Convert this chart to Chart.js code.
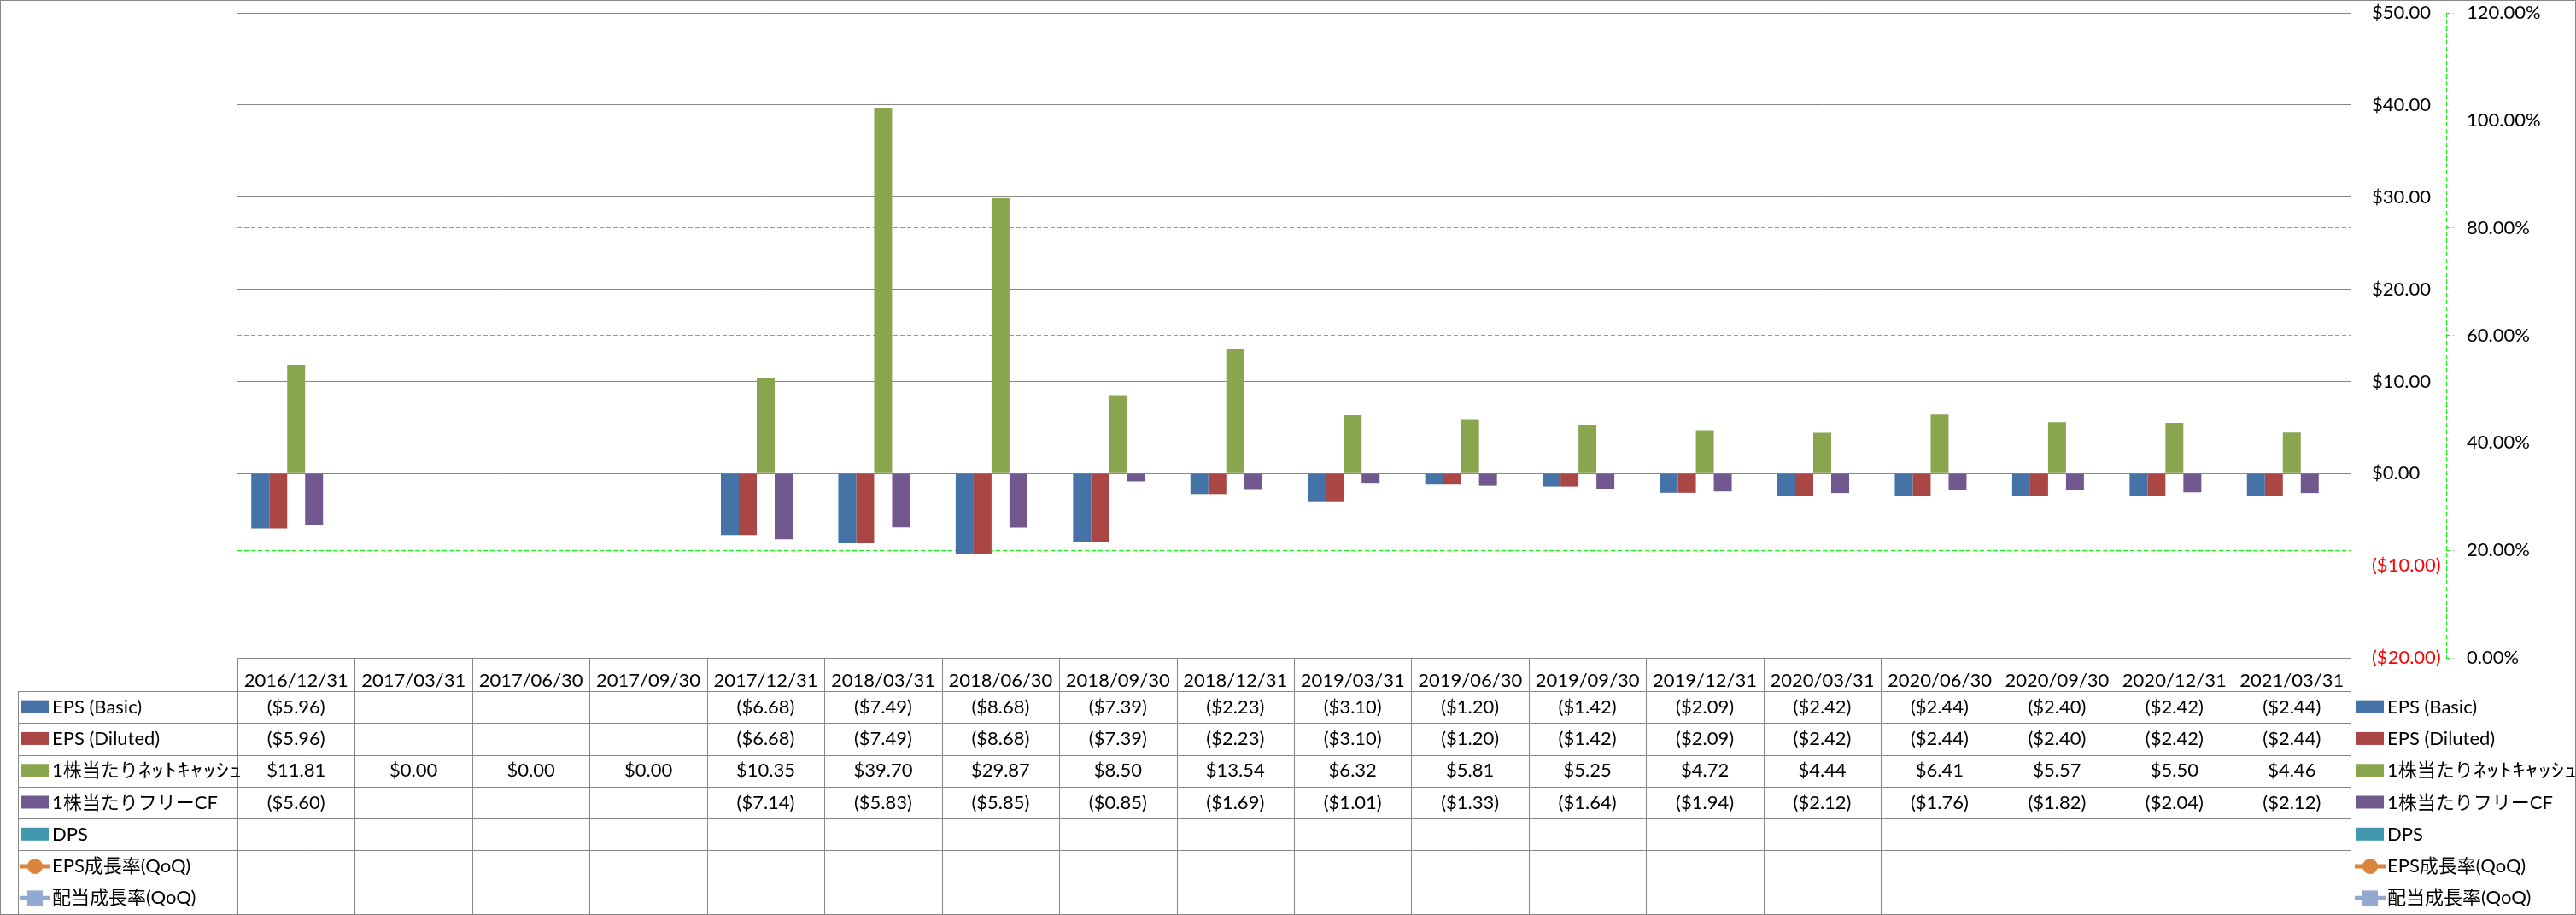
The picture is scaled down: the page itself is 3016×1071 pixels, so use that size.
<!DOCTYPE html>
<html>
<head>
<meta charset="utf-8">
<script src="https://cdn.jsdelivr.net/npm/chart.js@4/dist/chart.umd.min.js"></script>
<style>
html,body{margin:0;padding:0;background:#fff;}
canvas{display:block;}
</style>
</head>
<body>
<canvas id="c" width="3016" height="1071"></canvas>
<script>
const categories = ['2016/12/31','2017/03/31','2017/06/30','2017/09/30','2017/12/31','2018/03/31','2018/06/30','2018/09/30','2018/12/31','2019/03/31','2019/06/30','2019/09/30','2019/12/31','2020/03/31','2020/06/30','2020/09/30','2020/12/31','2021/03/31'];
const epsBasic   = [-5.96,null,null,null,-6.68,-7.49,-8.68,-7.39,-2.23,-3.10,-1.20,-1.42,-2.09,-2.42,-2.44,-2.40,-2.42,-2.44];
const epsDiluted = [-5.96,null,null,null,-6.68,-7.49,-8.68,-7.39,-2.23,-3.10,-1.20,-1.42,-2.09,-2.42,-2.44,-2.40,-2.42,-2.44];
const netCashPS  = [11.81,0,0,0,10.35,39.70,29.87,8.50,13.54,6.32,5.81,5.25,4.72,4.44,6.41,5.57,5.50,4.46];
const freeCFPS   = [-5.60,null,null,null,-7.14,-5.83,-5.85,-0.85,-1.69,-1.01,-1.33,-1.64,-1.94,-2.12,-1.76,-1.82,-2.04,-2.12];
const dps        = [null,null,null,null,null,null,null,null,null,null,null,null,null,null,null,null,null,null];
const epsGrowth  = [null,null,null,null,null,null,null,null,null,null,null,null,null,null,null,null,null,null];
const divGrowth  = [null,null,null,null,null,null,null,null,null,null,null,null,null,null,null,null,null,null];
const seriesNames = ['EPS (Basic)','EPS (Diluted)','1株当たりﾈｯﾄｷｬｯｼｭ','1株当たりフリーCF','DPS','EPS成長率(QoQ)','配当成長率(QoQ)'];
const dollarTicks = {min:-20, max:50, step:10};
const pctTicks = {min:0, max:1.2, step:0.2};

const FONT = "Lato, 'Noto Sans CJK JP', sans-serif";
const GRAY = '#878787';
const GREEN = '#00ff00';
const colors = ['#4572A7','#AA4643','#89A54E','#71588F','#4198AF','#DB843D','#93A9CF'];

Chart.defaults.font.family = FONT;
Chart.defaults.font.size = 22;
Chart.defaults.color = '#000';

function fmt(v){
  if (v === null || v === undefined) return '';
  return v < 0 ? '($' + (-v).toFixed(2) + ')' : '$' + v.toFixed(2);
}

// draw a label, widening half-width katakana runs a little (as in the source rendering)
function drawLabel(ctx, text, x, y){
  const runs = [];
  let cur = '', curHW = null;
  for (const ch of text) {
    const cp = ch.codePointAt(0);
    const hw = cp >= 0xFF61 && cp <= 0xFF9F;
    if (curHW === null || hw === curHW) { cur += ch; curHW = hw; }
    else { runs.push([cur, curHW]); cur = ch; curHW = hw; }
  }
  if (cur) runs.push([cur, curHW]);
  let px = x;
  ctx.textAlign = 'left';
  for (const [t, hw] of runs) {
    const w = ctx.measureText(t).width;
    if (hw) {
      const sx = 1.38;
      ctx.save();
      ctx.translate(px, y);
      ctx.scale(sx, 1);
      ctx.fillText(t, 0, 0);
      ctx.restore();
      px += w * sx;
    } else {
      ctx.fillText(t, px, y);
      px += w;
    }
  }
}

const tablePlugin = {
  id: 'tablePlugin',
  beforeDraw(chart){
    const ctx = chart.ctx;
    ctx.save();
    ctx.fillStyle = '#fff';
    ctx.fillRect(0,0,chart.width,chart.height);
    ctx.restore();
  },
  afterDraw(chart){
    const ctx = chart.ctx;
    const xs = chart.scales.x;
    const y2 = chart.scales.y2;
    const n = categories.length;
    const colW = xs.width / n;
    const tableLeft = 21;
    const headTop = xs.top;
    const headBottom = headTop + 39;
    const tableBottom = chart.height - 1;
    const rowH = (tableBottom - headBottom) / seriesNames.length;
    const rows = [epsBasic, epsDiluted, netCashPS, freeCFPS, dps, epsGrowth, divGrowth];
    ctx.save();
    // dashed secondary axis line
    ctx.strokeStyle = GREEN; ctx.lineWidth = 1; ctx.setLineDash([5,3]);
    ctx.beginPath();
    ctx.moveTo(Math.round(y2.left)+0.5, y2.top);
    ctx.lineTo(Math.round(y2.left)+0.5, y2.bottom);
    ctx.stroke();
    ctx.setLineDash([]);
    // table lines
    ctx.strokeStyle = GRAY; ctx.lineWidth = 1;
    ctx.beginPath();
    for (let i = 0; i <= n; i++) {
      const x = Math.round(xs.left + i*colW) + 0.5;
      ctx.moveTo(x, headTop); ctx.lineTo(x, tableBottom);
    }
    ctx.moveTo(tableLeft + 0.5, headBottom); ctx.lineTo(tableLeft + 0.5, tableBottom);
    for (let r = 0; r <= seriesNames.length; r++) {
      const y = Math.round(headBottom + r*rowH) + 0.5;
      ctx.moveTo(tableLeft, y); ctx.lineTo(xs.right + 1, y);
    }
    ctx.stroke();
    // outer border
    ctx.strokeRect(0.5, 0.5, chart.width - 1, chart.height - 1);
    // cell values
    ctx.font = '22px ' + FONT;
    ctx.fillStyle = '#000';
    ctx.textBaseline = 'middle';
    rows.forEach((arr, r) => {
      const cy = headBottom + (r + 0.5)*rowH;
      arr.forEach((v, i) => {
        const t = fmt(v);
        ctx.textAlign = 'center';
        if (t) ctx.fillText(t, xs.getPixelForValue(i), cy);
      });
    });
    // legend keys (left in table and right of table)
    const drawKey = (r, kx, tx) => {
      const cy = headBottom + (r + 0.5)*rowH;
      const c = colors[r];
      if (r < 5) {
        ctx.fillStyle = c;
        ctx.fillRect(kx, cy - 8, 32, 15);
      } else {
        ctx.strokeStyle = c; ctx.lineWidth = 5;
        ctx.beginPath(); ctx.moveTo(kx - 2, cy); ctx.lineTo(kx + 34, cy); ctx.stroke();
        ctx.fillStyle = c;
        ctx.beginPath();
        if (r === 5) { ctx.arc(kx + 16, cy, 9, 0, Math.PI*2); }
        else { ctx.rect(kx + 7, cy - 9, 18, 18); }
        ctx.fill();
      }
      ctx.fillStyle = '#000';
      drawLabel(ctx, seriesNames[r], tx, cy);
    };
    for (let r = 0; r < seriesNames.length; r++) {
      drawKey(r, tableLeft + 4, tableLeft + 40);
      drawKey(r, xs.right + 7, xs.right + 43);
    }
    ctx.restore();
  }
};

const barCommon = {type:'bar', yAxisID:'y', categoryPercentage:0.764, barPercentage:1.0, borderWidth:0};
new Chart(document.getElementById('c'), {
  data: {
    labels: categories,
    datasets: [
      Object.assign({label: seriesNames[0], data: epsBasic, backgroundColor: colors[0]}, barCommon),
      Object.assign({label: seriesNames[1], data: epsDiluted, backgroundColor: colors[1]}, barCommon),
      Object.assign({label: seriesNames[2], data: netCashPS, backgroundColor: colors[2]}, barCommon),
      Object.assign({label: seriesNames[3], data: freeCFPS, backgroundColor: colors[3]}, barCommon),
      Object.assign({label: seriesNames[4], data: dps, backgroundColor: colors[4]}, barCommon),
      {type:'line', label: seriesNames[5], data: epsGrowth, yAxisID:'y2', borderColor: colors[5], backgroundColor: colors[5], pointStyle:'circle', pointRadius:9, borderWidth:5},
      {type:'line', label: seriesNames[6], data: divGrowth, yAxisID:'y2', borderColor: colors[6], backgroundColor: colors[6], pointStyle:'rect', pointRadius:9, borderWidth:5}
    ]
  },
  options: {
    responsive: false,
    animation: false,
    devicePixelRatio: 1,
    layout: { padding: { left: 278, top: 15, right: 0, bottom: 0 } },
    plugins: { legend: { display: false }, tooltip: { enabled: false } },
    scales: {
      x: {
        position: 'bottom',
        offset: true,
        grid: { display: false },
        border: { display: true, color: GRAY, width: 1 },
        ticks: { autoSkip: false, maxRotation: 0, minRotation: 0, padding: 6, font: { size: 22 }, color: '#000' },
        afterFit: s => { s.height = 301; s.paddingLeft = 0; s.paddingRight = 0; }
      },
      y: {
        position: 'right',
        min: dollarTicks.min, max: dollarTicks.max,
        grid: { color: GRAY, lineWidth: 1, drawTicks: false },
        border: { display: true, color: GRAY, width: 1 },
        ticks: {
          stepSize: dollarTicks.step, padding: 25, font: { size: 22 },
          color: c => (c.tick && c.tick.value < 0) ? '#ff0000' : '#000',
          callback: v => fmt(v)
        },
        afterFit: s => { s.width = 112; s.paddingTop = 0; s.paddingBottom = 0; }
      },
      y2: {
        position: 'right',
        min: pctTicks.min, max: pctTicks.max,
        grid: {
          color: c => (c.tick && (Math.abs(c.tick.value) < 1e-9 || Math.abs(c.tick.value - pctTicks.max) < 1e-9)) ? 'rgba(0,0,0,0)' : GREEN,
          tickColor: GREEN, tickLength: 9, tickBorderDash: [5,3], lineWidth: 1
        },
        border: { display: false, dash: [5,3] },
        ticks: {
          stepSize: pctTicks.step, padding: 15, font: { size: 22 }, color: '#000',
          callback: v => (v*100).toFixed(2) + '%'
        },
        afterFit: s => { s.width = 152; s.paddingTop = 0; s.paddingBottom = 0; }
      }
    }
  },
  plugins: [tablePlugin]
});
</script>
</body>
</html>
